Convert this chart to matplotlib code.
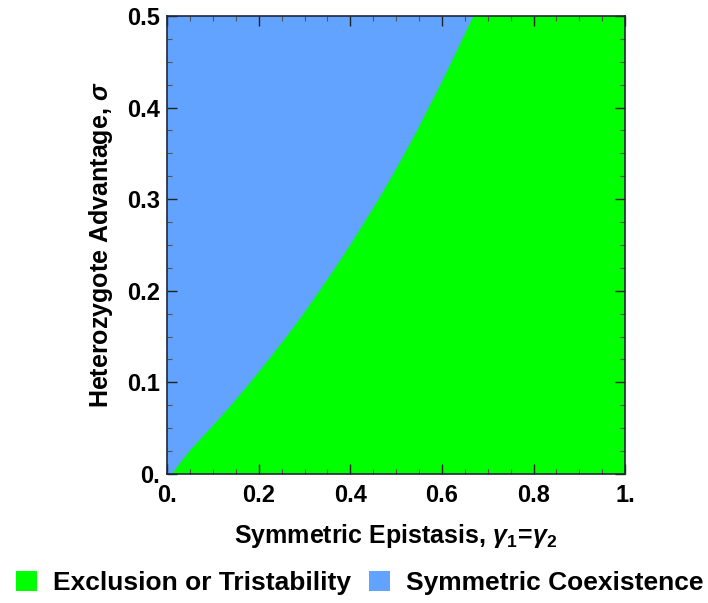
import matplotlib
matplotlib.use("Agg")
import matplotlib.pyplot as plt
from matplotlib.patches import Patch
from matplotlib.ticker import MultipleLocator
import numpy as np

# boundary between the two regions
sigma_edge = [0.0, 0.025, 0.05, 0.075, 0.1, 0.125, 0.15, 0.175, 0.2, 0.225, 0.25,
              0.275, 0.3, 0.325, 0.35, 0.375, 0.4, 0.425, 0.45, 0.475, 0.5]
gamma_edge = [0.01, 0.049, 0.095, 0.14, 0.182, 0.222, 0.261, 0.298, 0.333, 0.367, 0.4,
              0.431, 0.462, 0.491, 0.519, 0.546, 0.571, 0.597, 0.621, 0.645, 0.669]

labels = ["Exclusion or Tristability", "Symmetric Coexistence"]
colors = ["#00ff00", "#62a3ff"]

xticks = [0, 0.2, 0.4, 0.6, 0.8, 1.0]
xticklabels = ["0.", "0.2", "0.4", "0.6", "0.8", "1."]
yticks = [0, 0.1, 0.2, 0.3, 0.4, 0.5]
yticklabels = ["0.", "0.1", "0.2", "0.3", "0.4", "0.5"]

plt.rcParams['font.family'] = ['Liberation Sans', 'DejaVu Sans']
plt.rcParams['font.weight'] = 'bold'
plt.rcParams['mathtext.fontset'] = 'custom'
plt.rcParams['mathtext.rm'] = 'Liberation Sans:bold'
plt.rcParams['mathtext.it'] = 'Liberation Sans:italic:bold'
plt.rcParams['mathtext.bf'] = 'Liberation Sans:bold'

fig = plt.figure(figsize=(7.08, 6.03), dpi=100)
ax = fig.add_axes([0.236, 0.214, 0.647, 0.7595])

# blue everywhere, green to the right of the boundary
ax.fill_between([0, 1], 0, 0.5, color=colors[1], lw=0)
g = np.array(gamma_edge)
s = np.array(sigma_edge)
ax.fill(np.concatenate([g, [1, 1]]), np.concatenate([s, [0.5, 0]]),
        color=colors[0], lw=0)

ax.set_xlim(0, 1)
ax.set_ylim(0, 0.5)
ax.set_xticks(xticks)
ax.set_xticklabels(xticklabels)
ax.set_yticks(yticks)
ax.set_yticklabels(yticklabels)
ax.xaxis.set_minor_locator(MultipleLocator(0.05))
ax.yaxis.set_minor_locator(MultipleLocator(0.025))
ax.tick_params(which='major', direction='in', length=7, width=1, color='#222222',
               labelsize=17, top=True, right=True, labeltop=False, labelright=False)
ax.tick_params(axis='x', which='major', pad=7)
ax.tick_params(axis='y', which='major', pad=5)
ax.tick_params(which='minor', direction='in', length=3.5, width=0.8, color='#555555',
               top=True, right=True)
for sp in ax.spines.values():
    sp.set_color('#202838')
    sp.set_linewidth(1.2)

ax.set_xlabel(r"Symmetric Epistasis, $\gamma_1\!=\!\gamma_2$", fontsize=18,
              fontweight='bold', labelpad=11)
ax.set_ylabel(r"Heterozygote Advantage, $\sigma$", fontsize=18,
              fontweight='bold', labelpad=9)

handles = [Patch(facecolor=colors[0], edgecolor='none'),
           Patch(facecolor=colors[1], edgecolor='none')]
fig.legend(handles, labels, loc='center', bbox_to_anchor=(0.508, 0.033), ncol=2,
           frameon=False, fontsize=19, handlelength=0.8, handleheight=0.8,
           handletextpad=0.6, columnspacing=0.7, borderaxespad=0)

fig.savefig("out.png", dpi=100)
